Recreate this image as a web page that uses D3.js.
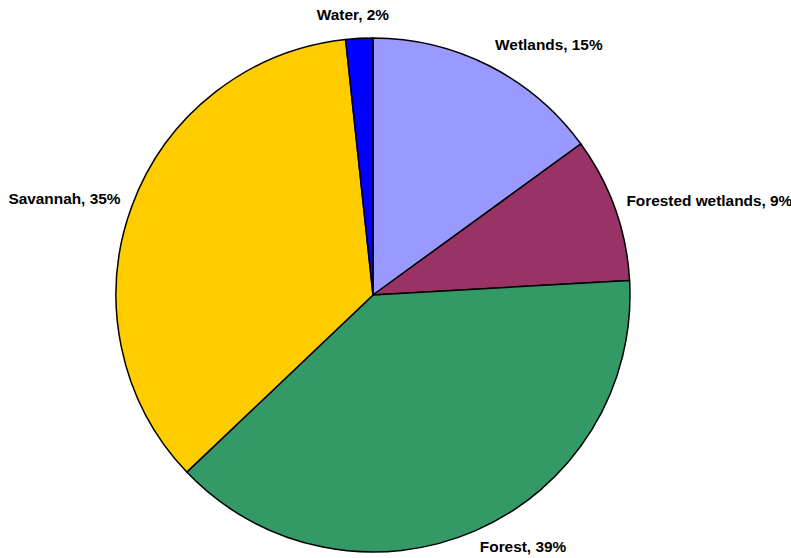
<!DOCTYPE html>
<html><head><meta charset="utf-8">
<script src="https://cdn.jsdelivr.net/npm/d3@7"></script>
<style>html,body{margin:0;padding:0;background:#fff;}</style>
</head><body>
<svg id="c" width="791" height="558"></svg>
<script>
const categories = ["Wetlands", "Forested wetlands", "Forest", "Savannah", "Water"];
const values = [15.0, 9.1, 38.8, 35.4, 1.7];
const labelPct = [15, 9, 39, 35, 2];
const colors = ["#9999FF", "#993366", "#339966", "#FFCC00", "#0000FF"];

const svg = d3.select("#c");
const cx = 373, cy = 295, R = 257;
const g = svg.append("g").attr("transform", `translate(${cx},${cy})`);
const pie = d3.pie().sort(null).value(d => d.v);
const data = categories.map((c, i) => ({c, v: values[i], p: labelPct[i], col: colors[i]}));
const arcs = pie(data);
const arc = d3.arc().innerRadius(0).outerRadius(R);
g.selectAll("path").data(arcs).join("path")
  .attr("d", arc).attr("fill", d => d.data.col)
  .attr("stroke", "#000").attr("stroke-width", 1.5).attr("stroke-linejoin", "round");

const fs = 15.4, LR = 269;
arcs.forEach(a => {
  const th = (a.startAngle + a.endAngle) / 2;
  const s = Math.sin(th), co = Math.cos(th);
  const px = LR * s, py = -LR * co;
  const t = g.append("text")
    .attr("font-family", "Liberation Sans, Arial, sans-serif")
    .attr("font-weight", "bold").attr("font-size", fs).attr("fill", "#000")
    .text(`${a.data.c}, ${a.data.p}%`);
  const w = t.node().getComputedTextLength();
  const k = Math.max(-1, Math.min(1, s * 3));
  const tcx = px + k * w / 2;
  const tcy = py - 0.8 * fs * Math.max(co, 0) + 0.3 * fs * Math.max(-co, 0);
  t.attr("x", tcx).attr("y", tcy + 0.36 * fs).attr("text-anchor", "middle");
});
</script>
</body></html>
